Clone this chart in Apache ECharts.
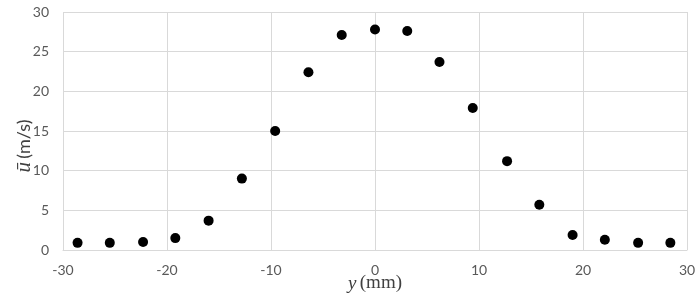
<!DOCTYPE html>
<html>
<head>
<meta charset="utf-8">
<script src="https://cdn.jsdelivr.net/npm/echarts@6/dist/echarts.min.js"></script>
<style>
  html, body { margin: 0; padding: 0; background: #fff; }
  #chart { width: 700px; height: 300px; }
</style>
</head>
<body>
<div id="chart"></div>
<script>
// positions across the jet (mm) and mean velocity (m/s)
const yPos = [-28.6, -25.5, -22.3, -19.2, -16.0, -12.8, -9.6, -6.4, -3.2, 0.0,
  3.1, 6.2, 9.4, 12.7, 15.8, 19.0, 22.1, 25.3, 28.4];
const uMean = [0.9, 0.9, 1.0, 1.5, 3.7, 9.0, 15.0, 22.4, 27.1, 27.8,
  27.6, 23.7, 17.9, 11.2, 5.7, 1.9, 1.3, 0.9, 0.9];

const gridColor = '#d9d9d9';
const labelColor = '#595959';
const nameColor = '#404040';

const chart = echarts.init(document.getElementById('chart'));

chart.setOption({
  animation: false,
  backgroundColor: '#fff',
  grid: { left: 63, right: 13, top: 12, bottom: 50, outerBoundsMode: 'none', containLabel: false },
  xAxis: {
    type: 'value',
    min: -30,
    max: 30,
    interval: 10,
    name: '{it|y} {n|(mm)}',
    nameLocation: 'middle',
    nameGap: 24,
    nameMoveOverlap: false,
    nameTextStyle: {
      rich: {
        it: { fontFamily: 'Liberation Serif', fontStyle: 'italic', fontSize: 19, color: nameColor },
        n: { fontFamily: 'Liberation Serif', fontSize: 19, color: nameColor }
      }
    },
    axisLine: { show: true, lineStyle: { color: gridColor } },
    axisTick: { show: false },
    axisLabel: { color: labelColor, fontFamily: 'Lato', fontSize: 14, margin: 13 },
    splitLine: { show: true, lineStyle: { color: gridColor } }
  },
  yAxis: {
    type: 'value',
    min: 0,
    max: 30,
    interval: 5,
    name: '{it|ū} {n|(m/s)}',
    nameLocation: 'middle',
    nameGap: 28,
    nameMoveOverlap: false,
    nameTextStyle: {
      padding: [0, 30, 0, 0],
      rich: {
        it: { fontFamily: 'Liberation Serif', fontStyle: 'italic', fontSize: 21, color: nameColor },
        n: { fontFamily: 'Lato', fontSize: 18, color: nameColor }
      }
    },
    axisLine: { show: false },
    axisTick: { show: false },
    axisLabel: { color: labelColor, fontFamily: 'Lato', fontSize: 14, margin: 14 },
    splitLine: { show: true, lineStyle: { color: gridColor } }
  },
  series: [{
    type: 'scatter',
    data: yPos.map((y, i) => [y, uMean[i]]),
    symbol: 'circle',
    symbolSize: 10,
    itemStyle: { color: '#000', opacity: 1 }
  }]
});
</script>
</body>
</html>
